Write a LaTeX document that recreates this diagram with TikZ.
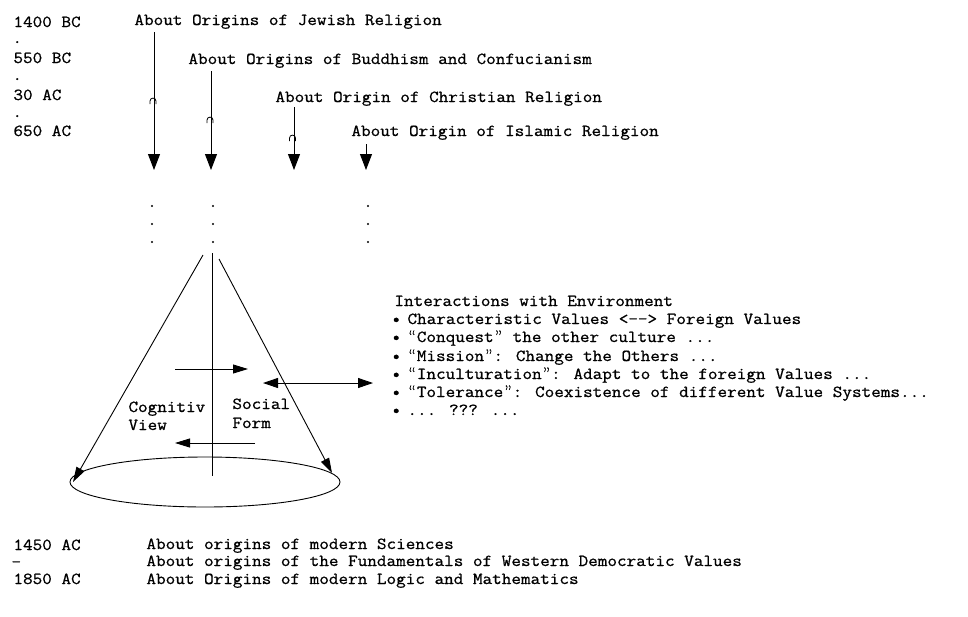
\documentclass[tikz,border=0pt]{standalone}
\usepackage{fontspec}
\setmainfont{Latin Modern Mono}[FakeStretch=1.11,FakeBold=0.8]
\newfontfamily\qfont{Latin Modern Roman}[FakeBold=0.8]
\newcommand{\myLQ}{\makebox[9.4pt]{\qfont “}}
\newcommand{\myRQ}{\makebox[9.4pt]{\qfont ”}}
\usetikzlibrary{arrows.meta,shapes.geometric}
\begin{document}
\begin{tikzpicture}[x=1pt,y=-1pt,line width=0.9pt,
  lbl/.style={inner sep=0pt,anchor=base west,font=\fontsize{16.8}{18}\selectfont},
  bigtip/.style={-{Triangle[length=16pt,width=12pt]}},
  smalltip/.style={-{Triangle[length=15pt,width=9pt]}},
  hook/.style={line width=0.8pt},
  dot/.style={circle,fill,inner sep=0pt,minimum size=2.4pt}]
\useasboundingbox (0,0) rectangle (968,616);
% time axis
\node[lbl] (t1400) at (13,27) {1400 BC};
\node[lbl] (d1) at (12,43) {.};
\node[lbl] (t550) at (13,63) {550 BC};
\node[lbl] (d2) at (12,80) {.};
\node[lbl] (t30) at (13,100) {30 AC};
\node[lbl] (d3) at (12,117) {.};
\node[lbl] (t650) at (13,136) {650 AC};
% religions
\node[lbl] (jew) at (134,25) {About Origins of Jewish Religion};
\node[lbl] (bud) at (188,64) {About Origins of Buddhism and Confucianism};
\node[lbl] (chr) at (275,102) {About Origin of Christian Religion};
\node[lbl] (isl) at (351,136) {About Origin of Islamic Religion};
\coordinate (a1s) at (154,32);  \coordinate (a1e) at (154,170);
\coordinate (a2s) at (211,71);  \coordinate (a2e) at (211,170);
\coordinate (a3s) at (294,107); \coordinate (a3e) at (294,170);
\coordinate (a4s) at (366,144); \coordinate (a4e) at (366,170);
\draw[bigtip] (a1s) -- (a1e);
\draw[bigtip] (a2s) -- (a2e);
\draw[bigtip] (a3s) -- (a3e);
\draw[bigtip] (a4s) -- (a4e);
% hooks
\foreach \hx/\hy in {153/98,210/117,292.5/135}
  \draw[hook] (\hx-3,\hy+6) -- (\hx-3,\hy+3) .. controls (\hx-3,\hy-0.8) and (\hx+3,\hy-0.8) .. (\hx+3,\hy+3) -- (\hx+3,\hy+6);
% dots
\foreach \dx in {152,213,368}
  \foreach \dy in {206,224,242}
    \node[dot] at (\dx,\dy) {};
% cone
\node[draw,ellipse,inner sep=0pt,minimum width=270pt,minimum height=50pt] (base) at (205,482) {};
\coordinate (apexL) at (203,255);
\coordinate (apexR) at (219,259);
\coordinate (tipL) at (73,482);
\coordinate (tipR) at (332,473);
\draw[smalltip] (apexL) -- (tipL);
\draw[smalltip] (apexR) -- (tipR);
\coordinate (axT) at (212,253);
\coordinate (axB) at (212,476);
\draw (axT) -- (axB);
\coordinate (r1s) at (175,369); \coordinate (r1e) at (248,369);
\coordinate (l1s) at (255,443); \coordinate (l1e) at (175,443);
\coordinate (ds) at (263,383); \coordinate (de) at (373,383);
\draw[smalltip] (r1s) -- (r1e);
\draw[smalltip] (l1s) -- (l1e);
\draw[{Triangle[length=15pt,width=10pt]}-{Triangle[length=15pt,width=10pt]}] (ds) -- (de);
\node[lbl] (cog) at (128,412) {Cognitiv};
\node[lbl] (view) at (128,430) {View};
\node[lbl] (soc) at (232,409) {Social};
\node[lbl] (form) at (232,428) {Form};
% interactions
\node[lbl] (int0) at (394,306) {Interactions with Environment};
\node[lbl] (int1) at (391,324) {\makebox[16pt][l]{•}Characteristic Values <-{}-> Foreign Values};
\node[lbl] (int2) at (391,342) {\makebox[16pt][l]{•}\myLQ Conquest\myRQ{} the other culture ...};
\node[lbl] (int3) at (391,361) {\makebox[16pt][l]{•}\myLQ Mission\myRQ: Change the Others ...};
\node[lbl] (int4) at (391,379) {\makebox[16pt][l]{•}\myLQ Inculturation\myRQ: Adapt to the foreign Values ...};
\node[lbl] (int5) at (391,397) {\makebox[16pt][l]{•}\myLQ Tolerance\myRQ: Coexistence of different Value Systems...};
\node[lbl] (int6) at (391,415) {\makebox[16pt][l]{•}... ??? ...};
% modern era
\node[lbl] (t1450) at (13,550) {1450 AC};
\node[lbl] (dash) at (11,567) {-};
\node[lbl] (t1850) at (13,584) {1850 AC};
\node[lbl] (sci) at (146,549) {About origins of modern Sciences};
\node[lbl] (dem) at (146,566) {About origins of the Fundamentals of Western Democratic Values};
\node[lbl] (log) at (146,584) {About Origins of modern Logic and Mathematics};
\end{tikzpicture}
\end{document}
